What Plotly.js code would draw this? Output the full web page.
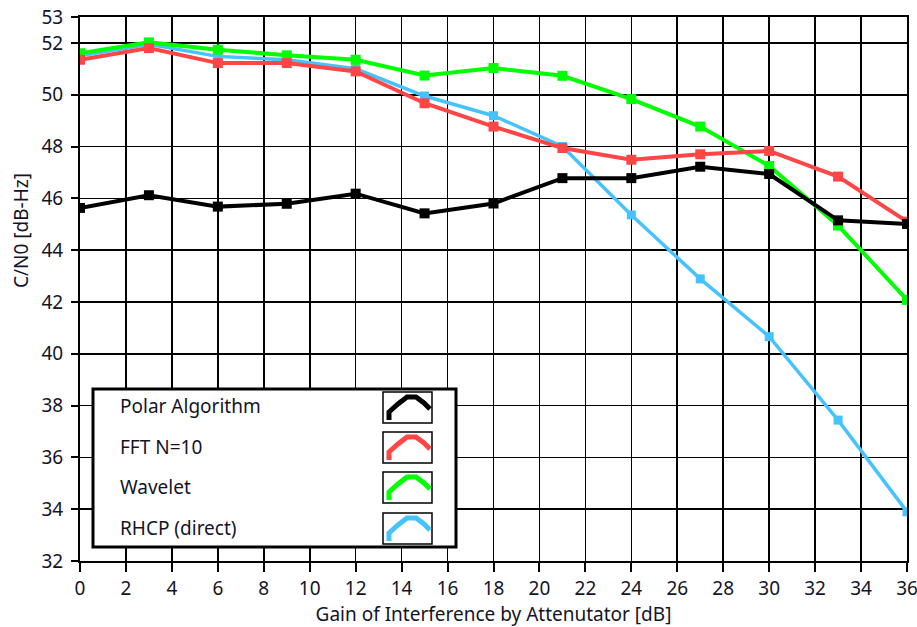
<!DOCTYPE html>
<html>
<head>
<meta charset="utf-8">
<script src="https://cdn.plot.ly/plotly-3.0.1.min.js"></script>
<style>html,body{margin:0;padding:0;background:#fff;}#chart{width:917px;height:627px;}</style>
</head>
<body>
<div id="chart"></div>
<script>
// ---- data ----
const gain = [0, 3, 6, 9, 12, 15, 18, 21, 24, 27, 30, 33, 36];
const seriesNames = ["Polar Algorithm", "FFT N=10", "Wavelet", "RHCP (direct)"];
const polar   = [45.63, 46.12, 45.68, 45.79, 46.18, 45.42, 45.80, 46.78, 46.78, 47.22, 46.94, 45.15, 45.01];
const fft     = [51.35, 51.80, 51.22, 51.22, 50.90, 49.67, 48.77, 47.94, 47.49, 47.70, 47.83, 46.84, 45.10];
const wavelet = [51.60, 52.02, 51.74, 51.52, 51.35, 50.74, 51.03, 50.73, 49.83, 48.77, 47.25, 44.95, 42.08];
const rhcp    = [51.50, 51.95, 51.48, 51.35, 51.00, 49.95, 49.19, 48.00, 45.36, 42.89, 40.66, 37.44, 33.90];
const xTicks = [0,2,4,6,8,10,12,14,16,18,20,22,24,26,28,30,32,34,36];
const yTicks = [32,34,36,38,40,42,44,46,48,50,52,53];

const colors = ["#000000", "#ff4646", "#00ff00", "#46c3ff"];
const values = [polar, fft, wavelet, rhcp];
const msizes = [10, 10, 10, 9];
const lwidths = [4, 4, 4, 3.5];

const FONT = "Noto Sans, Open Sans, DejaVu Sans, sans-serif";
const TXT = "#141428";
const FS = 19;

const traces = values.map((v, i) => ({
  type: "scatter",
  mode: "lines+markers",
  x: gain,
  y: v,
  name: seriesNames[i],
  line: {color: colors[i], width: lwidths[i]},
  marker: {symbol: "square", size: msizes[i], color: colors[i]},
  showlegend: false
}));
const order = [3, 2, 1, 0];
const data = order.map(i => traces[i]);

// plot area in pixels
const L = 80, R = 907, T = 17, B = 561;
const px = x => (x - L) / (R - L);
const py = y => (B - y) / (B - T);

const shapes = [];
const annotations = [];
// legend box
shapes.push({type: "rect", xref: "paper", yref: "paper", x0: px(93), x1: px(456), y0: py(547), y1: py(389),
  fillcolor: "#ffffff", line: {color: "#000", width: 3}, layer: "above"});
const rowY = [406, 447, 487, 528];
const boxTop = [392, 432, 472, 513];
seriesNames.forEach((n, i) => {
  annotations.push({xref: "paper", yref: "paper", x: px(118), y: py(rowY[i]), xanchor: "left", yanchor: "middle",
    text: n, showarrow: false, font: {family: FONT, size: FS, color: TXT}});
  const t = boxTop[i];
  shapes.push({type: "rect", xref: "paper", yref: "paper", x0: px(383), x1: px(432), y0: py(t + 31), y1: py(t),
    fillcolor: "#fff", line: {color: "#000", width: 1.5}, layer: "above"});
  const pts = [[6, 28], [6, 20], [15, 12], [24, 5], [33, 5], [41, 11], [47, 17]];
  const path = pts.map((p, k) => (k ? "L" : "M") + px(383 + p[0]).toFixed(5) + "," + py(t + p[1]).toFixed(5)).join(" ");
  shapes.push({type: "path", xref: "paper", yref: "paper", path: path,
    line: {color: colors[i], width: 5}, layer: "above"});
});

// y axis title (placed as in reference, above centre)
annotations.push({xref: "paper", yref: "paper", x: px(21), y: py(231), xanchor: "center", yanchor: "middle",
  text: "C/N0 [dB-Hz]", textangle: -90, showarrow: false, font: {family: FONT, size: FS, color: TXT}});

const layout = {
  width: 917, height: 627,
  margin: {l: L, r: 917 - R, t: T, b: 627 - B},
  paper_bgcolor: "#fff", plot_bgcolor: "#fff",
  font: {family: FONT, size: FS, color: TXT},
  showlegend: false,
  xaxis: {
    range: [0, 36], tickvals: xTicks, ticktext: xTicks.map(String),
    showgrid: true, gridcolor: "#000", gridwidth: 1.6,
    showline: true, linecolor: "#000", linewidth: 2, mirror: true,
    ticks: "outside", ticklen: 9, tickwidth: 2, tickcolor: "#000",
    ticklabeloverflow: "allow",
    zeroline: false, tickfont: {family: FONT, size: FS, color: TXT},
    title: {text: "Gain of Interference by Attenutator [dB]", font: {family: FONT, size: FS, color: TXT}, standoff: 6}
  },
  yaxis: {
    range: [32, 53], tickvals: yTicks, ticktext: yTicks.map(String),
    showgrid: true, gridcolor: "#000", gridwidth: 1.6,
    showline: true, linecolor: "#000", linewidth: 2, mirror: true,
    ticks: "outside", ticklen: 7, tickwidth: 2, tickcolor: "#000", ticklabelstandoff: 4,
    ticklabeloverflow: "allow",
    zeroline: false, tickfont: {family: FONT, size: FS, color: TXT}
  },
  shapes: shapes,
  annotations: annotations
};

Plotly.newPlot("chart", data, layout, {displayModeBar: false, staticPlot: true});
</script>
</body>
</html>
